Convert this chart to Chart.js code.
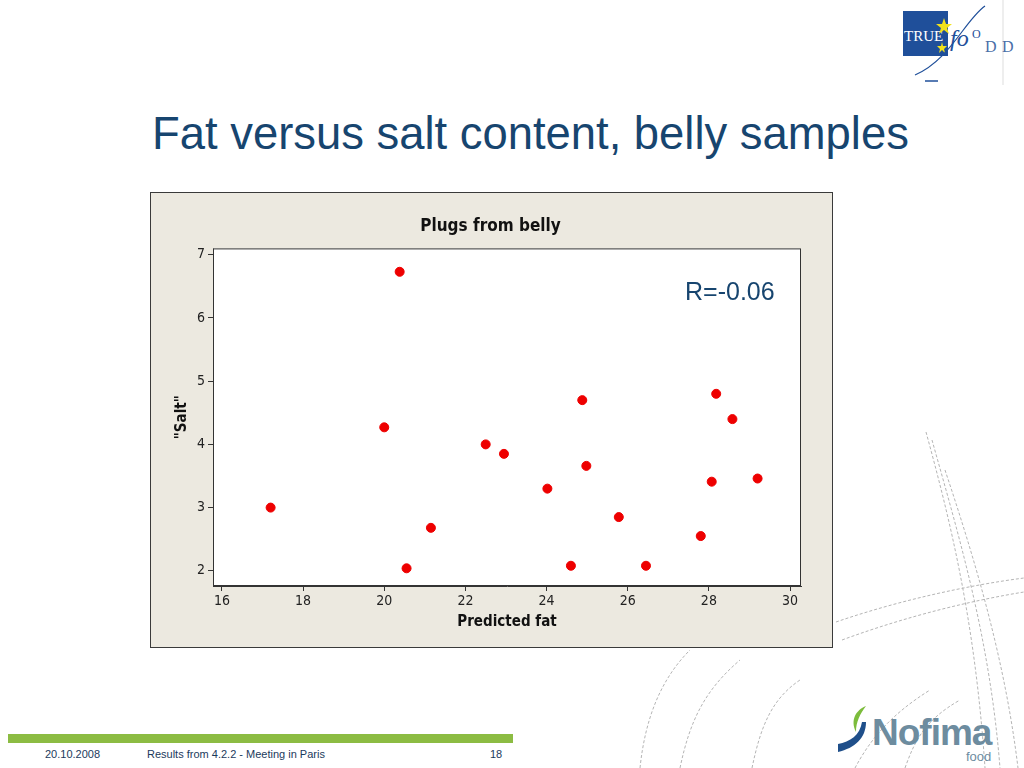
<!DOCTYPE html>
<html>
<head>
<meta charset="utf-8">
<script src="https://cdn.jsdelivr.net/npm/chart.js@4/dist/chart.umd.min.js"></script>
<style>
  html, body { margin: 0; padding: 0; background: #fff; }
  body { width: 1024px; height: 768px; position: relative; overflow: hidden; font-family: "Liberation Sans", Arial, sans-serif; }
  #deco { position: absolute; left: 0; top: 0; }
  #slideTitle { position: absolute; left: 152px; top: 108px; font-size: 45.4px; color: #17456f; white-space: nowrap; }
  #box { position: absolute; left: 150px; top: 192px; width: 681px; height: 454px; background: #ece9e0; border: 1px solid #3a3a3a; }
  #box canvas { display: block; }
  #rtext { position: absolute; left: 685px; top: 277px; font-size: 25px; color: #17456f; }
  #greenbar { position: absolute; left: 8px; top: 734px; width: 505px; height: 9px; background: #8cbc43; }
  .foot { position: absolute; top: 748px; font-size: 11px; color: #1b3a5c; }
  #nofima { position: absolute; left: 872px; top: 712px; font: bold 37px "Liberation Sans", Arial, sans-serif; color: #6d8c9f; letter-spacing: -1px; }
  #food { position: absolute; left: 966px; top: 749px; font: 13px "Liberation Sans", Arial, sans-serif; color: #6d8c9f; }
</style>
</head>
<body>
<svg id="deco" width="1024" height="768">
  <g fill="none" stroke="#b5b5b5" stroke-width="1" stroke-dasharray="3,2">
    <path d="M926 432 C 950 520, 975 620, 985 768"/>
    <path d="M932 440 C 960 540, 990 640, 1000 768"/>
    <path d="M945 470 C 975 560, 1005 660, 1018 768"/>
    <path d="M836 622 C 900 600, 970 585, 1024 578"/>
    <path d="M842 640 C 910 615, 975 600, 1024 592"/>
    <path d="M640 768 C 645 720, 660 680, 690 650"/>
    <path d="M680 768 C 690 720, 705 690, 740 660"/>
    <path d="M752 768 C 760 730, 770 700, 800 680"/>
    <path d="M855 768 C 870 740, 890 715, 930 690"/>
    <path d="M905 768 C 915 740, 925 720, 960 700"/>
  </g>
  <!-- TRUEFOOD logo -->
  <line x1="1003" y1="0" x2="1003" y2="85" stroke="#dddddd"/>
  <rect x="903" y="11" width="45" height="45" fill="#1f4f9a"/>
  <text x="904" y="41" font-family="Liberation Serif" font-size="15" fill="#ffffff">TRUE</text>
  <polygon points="944,18 946,24 952,24 947,28 949,34 944,30 939,34 941,28 936,24 942,24" fill="#f2e21a"/>
  <polygon points="942,42 943,46 947,46 944,49 945,53 942,50 939,53 940,49 937,46 941,46" fill="#f2e21a"/>
  <text x="950" y="46" font-family="Liberation Serif" font-style="italic" font-size="24" fill="#1f4f9a">fo</text>
  <text x="972" y="38" font-family="Liberation Serif" font-size="12" fill="#1f4f9a">O</text>
  <text x="985" y="52" font-family="Liberation Serif" font-size="16" fill="#4a6fa8">D</text>
  <text x="1002" y="52" font-family="Liberation Serif" font-size="16" fill="#4a6fa8">D</text>
  <path d="M985 6 C 965 20, 950 60, 915 75" fill="none" stroke="#1f4f9a" stroke-width="1.2"/>
  <line x1="925" y1="81" x2="938" y2="81" stroke="#1f4f9a" stroke-width="1.5"/>
  <!-- Nofima swoosh -->
  <path d="M838 752 C 855 748, 866 738, 866 722 L 862 722 C 860 735, 850 742, 838 744 Z" fill="#1f4f8a"/>
  <path d="M866 706 C 856 710, 850 720, 856 732 C 856 722, 860 714, 866 706 Z" fill="#7cbc3c"/>
</svg>

<div id="slideTitle">Fat versus salt content, belly samples</div>

<div id="box"><canvas id="chart" width="681" height="454"></canvas></div>
<div id="rtext">R=-0.06</div>

<div id="greenbar"></div>
<div class="foot" style="left:45px">20.10.2008</div>
<div class="foot" style="left:147px">Results from 4.2.2 - Meeting in Paris</div>
<div class="foot" style="left:490px">18</div>
<div id="nofima">Nofima</div>
<div id="food">food</div>

<script>
// predicted fat (x) and salt (y)
const fatValues  = [17.2, 20.38, 20.0, 20.55, 21.15, 22.5, 22.95, 24.02, 24.6, 24.88, 24.98, 25.78, 26.45, 27.8, 28.07, 28.18, 28.58, 29.2];
const saltValues = [3.0, 6.73, 4.27, 2.04, 2.68, 4.0, 3.85, 3.30, 2.08, 4.70, 3.66, 2.85, 2.08, 2.55, 3.41, 4.80, 4.40, 3.46];
const xTicks = [16, 18, 20, 22, 24, 26, 28, 30];
const yTicks = [2, 3, 4, 5, 6, 7];

const points = fatValues.map((x, i) => ({ x: x, y: saltValues[i] }));

const frame = {
    id: 'frame',
    beforeDatasetsDraw(chart) {
        const a = chart.chartArea;
        const ctx = chart.ctx;
        ctx.save();
        ctx.fillStyle = '#ffffff';
        ctx.fillRect(a.left, a.top, a.right - a.left, a.bottom - a.top);
        ctx.restore();
    },
    afterDraw(chart) {
        const a = chart.chartArea;
        const ctx = chart.ctx;
        ctx.save();
        ctx.strokeStyle = '#333333';
        ctx.lineWidth = 1;
        ctx.strokeRect(a.left + 0.5, a.top + 0.5, a.right - a.left - 1, a.bottom - a.top - 1);
        ctx.restore();
    }
};

const fam = '"DejaVu Sans Condensed", "DejaVu Sans", sans-serif';
const tickFont = { family: fam, size: 14 };
const titleFont = { family: fam, size: 15, weight: 'bold' };

new Chart(document.getElementById('chart'), {
    type: 'scatter',
    data: {
        datasets: [{
            label: 'Plugs from belly',
            data: points,
            backgroundColor: '#ee0000',
            borderColor: '#ee0000',
            pointRadius: 4.5,
            pointHoverRadius: 4.5
        }]
    },
    plugins: [frame],
    options: {
        responsive: false,
        animation: false,
        layout: { padding: { left: 22, right: 24, top: 15, bottom: 16 } },
        plugins: {
            legend: { display: false },
            tooltip: { enabled: false },
            title: {
                display: true,
                text: 'Plugs from belly',
                color: '#111111',
                font: { family: fam, size: 17, weight: 'bold' },
                padding: { top: 8, bottom: 12 }
            }
        },
        scales: {
            x: {
                type: 'linear',
                min: 15.78,
                max: 30.27,
                afterBuildTicks: axis => { axis.ticks = xTicks.map(v => ({ value: v })); },
                afterFit: axis => { axis.height = 45; },
                grid: { display: true, drawOnChartArea: false, drawTicks: true, tickLength: 5, color: '#333333' },
                border: { display: true, color: '#333333' },
                ticks: { color: '#222222', font: tickFont, padding: 2, maxRotation: 0 },
                title: { display: true, text: 'Predicted fat', color: '#111111', font: titleFont, padding: { top: 1, bottom: 0 } }
            },
            y: {
                type: 'linear',
                min: 1.76,
                max: 7.1,
                afterBuildTicks: axis => { axis.ticks = yTicks.map(v => ({ value: v })); },
                afterFit: axis => { axis.width = 40; },
                grid: { display: true, drawOnChartArea: false, drawTicks: true, tickLength: 5, color: '#333333' },
                border: { display: true, color: '#333333' },
                ticks: { color: '#222222', font: tickFont, padding: 3 },
                title: { display: true, text: '"Salt"', color: '#111111', font: titleFont, padding: { top: 0, bottom: 4 } }
            },
            // empty spacer on the right so the title centres on the whole box
            ySpacer: {
                type: 'linear',
                position: 'right',
                display: true,
                afterFit: axis => { axis.width = 7; },
                grid: { display: false },
                border: { display: false },
                ticks: { display: false }
            }
        }
    }
});
</script>
</body>
</html>
